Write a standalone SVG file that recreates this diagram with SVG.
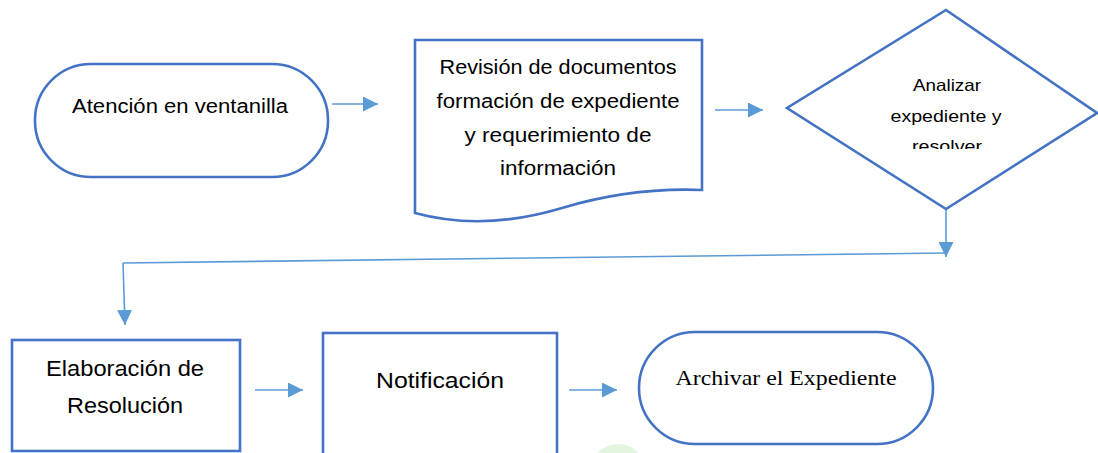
<svg xmlns="http://www.w3.org/2000/svg" width="1098" height="453" viewBox="0 0 1098 453">
<style>
.node{fill:#fff;stroke:#4472C4;stroke-width:2.6}
.conn{fill:none;stroke:#5B9BD5;stroke-width:1.6}
.t{font-family:"Liberation Sans",Arial,sans-serif;fill:#000;text-anchor:middle}
.tr{font-family:"Liberation Serif","Times New Roman",serif;fill:#000;text-anchor:middle}
</style>
<defs>
<marker id="ah" viewBox="0 0 10 10" refX="10" refY="5" markerWidth="15" markerHeight="15" markerUnits="userSpaceOnUse" orient="auto">
<path d="M0,0 L10,5 L0,10 z" fill="#5B9BD5"/>
</marker>
<clipPath id="dclip"><rect x="850" y="60" width="200" height="89"/></clipPath>
</defs>
<rect width="1098" height="453" fill="#fff"/>
<circle cx="618" cy="472" r="28" fill="#e3f5df"/>
<g id="n1">
<rect class="node" x="35" y="64" width="293" height="113" rx="56" ry="56"/>
<text class="t" x="180" y="113" font-size="19.5" textLength="216" lengthAdjust="spacingAndGlyphs">Atención en ventanilla</text>
</g>
<g id="n2">
<path class="node" d="M415,40 H702 V190 C652,188 602,196 562,208 C522,220 470,228 415,213 Z"/>
<text class="t" x="558" y="74" font-size="19.5" textLength="237" lengthAdjust="spacingAndGlyphs">Revisión de documentos</text>
<text class="t" x="558" y="108" font-size="19.5" textLength="243" lengthAdjust="spacingAndGlyphs">formación de expediente</text>
<text class="t" x="558" y="142" font-size="19.5" textLength="187" lengthAdjust="spacingAndGlyphs">y requerimiento de</text>
<text class="t" x="558" y="175" font-size="19.5" textLength="116" lengthAdjust="spacingAndGlyphs">información</text>
</g>
<g id="n3">
<path class="node" d="M946,10 L1097,113 L946,209 L787,108 Z"/>
<g clip-path="url(#dclip)">
<text class="t" x="947" y="91" font-size="16.5" textLength="68" lengthAdjust="spacingAndGlyphs">Analizar</text>
<text class="t" x="946" y="122" font-size="16.5" textLength="111" lengthAdjust="spacingAndGlyphs">expediente y</text>
<text class="t" x="947" y="152" font-size="16.5" textLength="70" lengthAdjust="spacingAndGlyphs">resolver</text>
</g>
</g>
<g id="n4">
<rect class="node" x="12" y="340" width="228" height="111"/>
<text class="t" x="125" y="376" font-size="22" textLength="158" lengthAdjust="spacingAndGlyphs">Elaboración de</text>
<text class="t" x="125" y="413" font-size="22" textLength="116" lengthAdjust="spacingAndGlyphs">Resolución</text>
</g>
<g id="n5">
<rect class="node" x="323" y="333" width="234" height="130"/>
<text class="t" x="440" y="388" font-size="22" textLength="128" lengthAdjust="spacingAndGlyphs">Notificación</text>
</g>
<g id="n6">
<rect class="node" x="639" y="332" width="294" height="112" rx="56" ry="56"/>
<text class="tr" x="786" y="385" font-size="21" textLength="221" lengthAdjust="spacingAndGlyphs">Archivar el Expediente</text>
</g>
<g id="connectors">
<line class="conn" x1="332" y1="104" x2="378" y2="104" marker-end="url(#ah)"/>
<line class="conn" x1="715" y1="110" x2="763" y2="110" marker-end="url(#ah)"/>
<line class="conn" x1="946" y1="210" x2="946" y2="257" marker-end="url(#ah)"/>
<polyline class="conn" points="946,253 123,263"/>
<line class="conn" x1="123" y1="263" x2="125" y2="325" marker-end="url(#ah)"/>
<line class="conn" x1="255" y1="390" x2="303" y2="390" marker-end="url(#ah)"/>
<line class="conn" x1="569" y1="390" x2="617" y2="390" marker-end="url(#ah)"/>
</g>
</svg>
